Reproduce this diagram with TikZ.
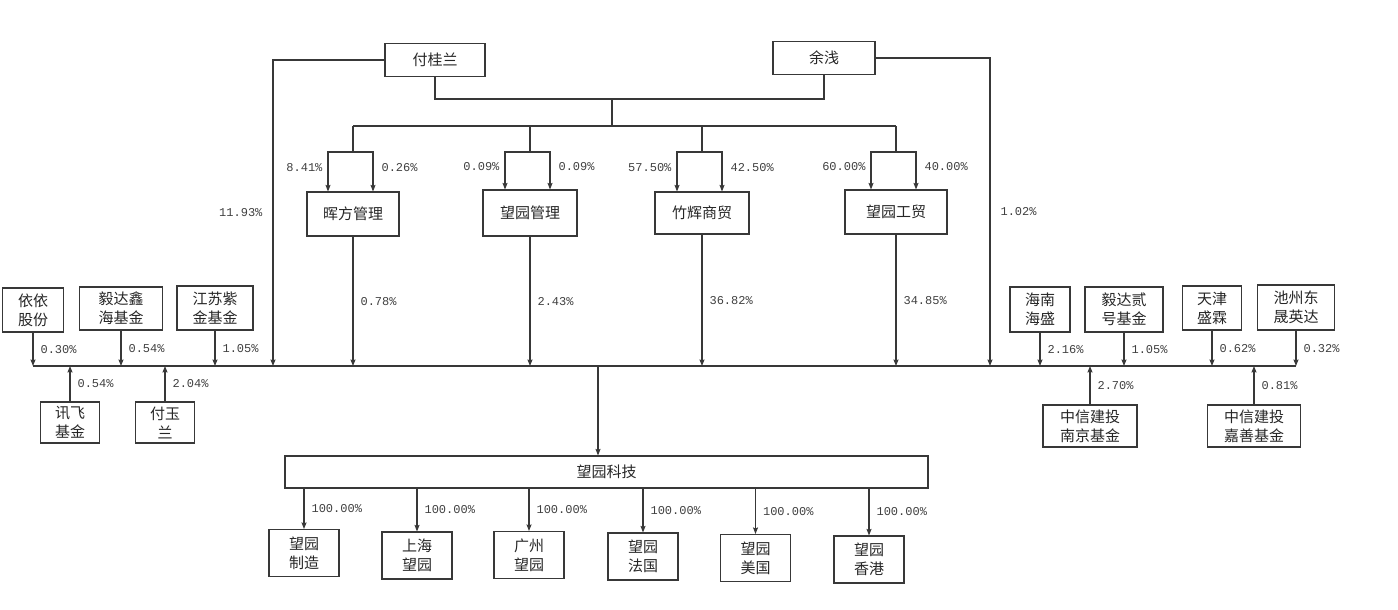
\documentclass[tikz,border=0pt]{standalone}
\usepackage{fontspec}
\newfontfamily\cjk{Noto Sans CJK SC}
\setmonofont{Liberation Mono}
\usepackage{tikz}
\usetikzlibrary{arrows.meta}
\usetikzlibrary{positioning}
\usetikzlibrary{calc}

\begin{document}
\begin{tikzpicture}[>={Stealth[length=6.5pt,width=5pt,inset=1pt]},x=1pt,y=-1pt,line width=1.1pt,color=black!78,
                    main node/.style={rectangle,draw,align=center,inner sep=0pt,text=black!85,
                                      font=\cjk\fontsize{15}{19}\selectfont},
                    pct/.style={font=\ttfamily\fontsize{12}{12}\selectfont,text=black!75,inner sep=2pt}]

  \useasboundingbox (0,0) rectangle (1398,610);

  % shareholders on top
  \node[main node,minimum width=100,minimum height=33] (fgl) at (435,60) {付桂兰};
  \node[main node,minimum width=102,minimum height=33] (yq) at (824,58) {余浅};

  \node[main node,minimum width=92,minimum height=44] (hf) at (353,214) {晖方管理};
  \node[main node,minimum width=94,minimum height=46] (wm) at (530,213) {望园管理};
  \node[main node,minimum width=94,minimum height=42] (zh) at (702,213) {竹辉商贸};
  \node[main node,minimum width=102,minimum height=44] (wg) at (896,212) {望园工贸};

  \coordinate (j1) at (612,99);
  \coordinate (j2) at (612,126);
  \coordinate (bus) at (598,366);
  \coordinate (lcol) at (273,366);
  \coordinate (rcol) at (990,366);

  \draw (fgl) |- (j1) -| (yq);
  \draw (j1) -- (j2);
  \draw (hf.north |- j2) -- (wg.north |- j2);

  \foreach \n/\a/\b in {hf/8.41/0.26, wm/0.09/0.09, zh/57.50/42.50, wg/60.00/40.00} {
    \draw (\n.north |- j2) -- ++(0,26) coordinate (fk);
    \draw[->] (fk) -| node[pct,left=3pt,pos=0.7] {\a\%} ([xshift=-25pt]\n.north);
    \draw[->] (fk) -| node[pct,right=6pt,pos=0.7] {\b\%} ([xshift=20pt]\n.north);
  }

  \draw[->] (fgl) -| node[pct,left=8pt,pos=0.75] {11.93\%} (lcol);
  \draw[->] (yq) -| node[pct,right=8pt,pos=0.75] {1.02\%} (rcol);

  % other shareholders
  \node[main node,minimum width=61,minimum height=44] (yy) at (33,310) {依依\\股份};
  \node[main node,minimum width=83,minimum height=43] (yd1) at (121,308.5) {毅达鑫\\海基金};
  \node[main node,minimum width=76,minimum height=44] (js) at (215,308) {江苏紫\\金基金};
  \node[main node,minimum width=59,minimum height=41] (xf) at (70,422.5) {讯飞\\基金};
  \node[main node,minimum width=59,minimum height=41] (fyl) at (165,422.5) {付玉\\兰};

  \node[main node,minimum width=60,minimum height=45] (hn) at (1040,309.5) {海南\\海盛};
  \node[main node,minimum width=78,minimum height=45] (yd2) at (1124,309.5) {毅达贰\\号基金};
  \node[main node,minimum width=59,minimum height=44] (tj) at (1212,308) {天津\\盛霖};
  \node[main node,minimum width=77,minimum height=45] (cz) at (1296,307.5) {池州东\\晟英达};
  \node[main node,minimum width=94,minimum height=42] (zx1) at (1090,426) {中信建投\\南京基金};
  \node[main node,minimum width=93,minimum height=42] (zx2) at (1254,426) {中信建投\\嘉善基金};

  \draw (yy |- bus) -- (cz |- bus);

  \foreach \n/\p in {hf/0.78, wm/2.43, zh/36.82, wg/34.85,
                     yy/0.30, yd1/0.54, js/1.05, hn/2.16, yd2/1.05, tj/0.62, cz/0.32,
                     xf/0.54, fyl/2.04, zx1/2.70, zx2/0.81}
    \draw[->] (\n) -- node[pct,right=5pt] {\p\%} (\n |- bus);

  % company and subsidiaries
  \node[main node,minimum width=643,minimum height=32] (wy) at (606.5,472) {望园科技};
  \draw[->] (bus) -- (bus |- wy.north);

  \foreach \n/\x/\y/\la/\lb in {zz/304/553/望园/制造, shw/417/555.5/上海/望园, gzw/529/555/广州/望园,
                                fg/643/556.5/望园/法国, mg/755.5/558/望园/美国, xg/869/559.5/望园/香港} {
    \node[main node,minimum width=70,minimum height=47] (\n) at (\x,\y) {\la\\\lb};
    \draw[->] (\n |- wy.south) -- node[pct,right=5pt] {100.00\%} (\n);
  }
\end{tikzpicture}
\end{document}
